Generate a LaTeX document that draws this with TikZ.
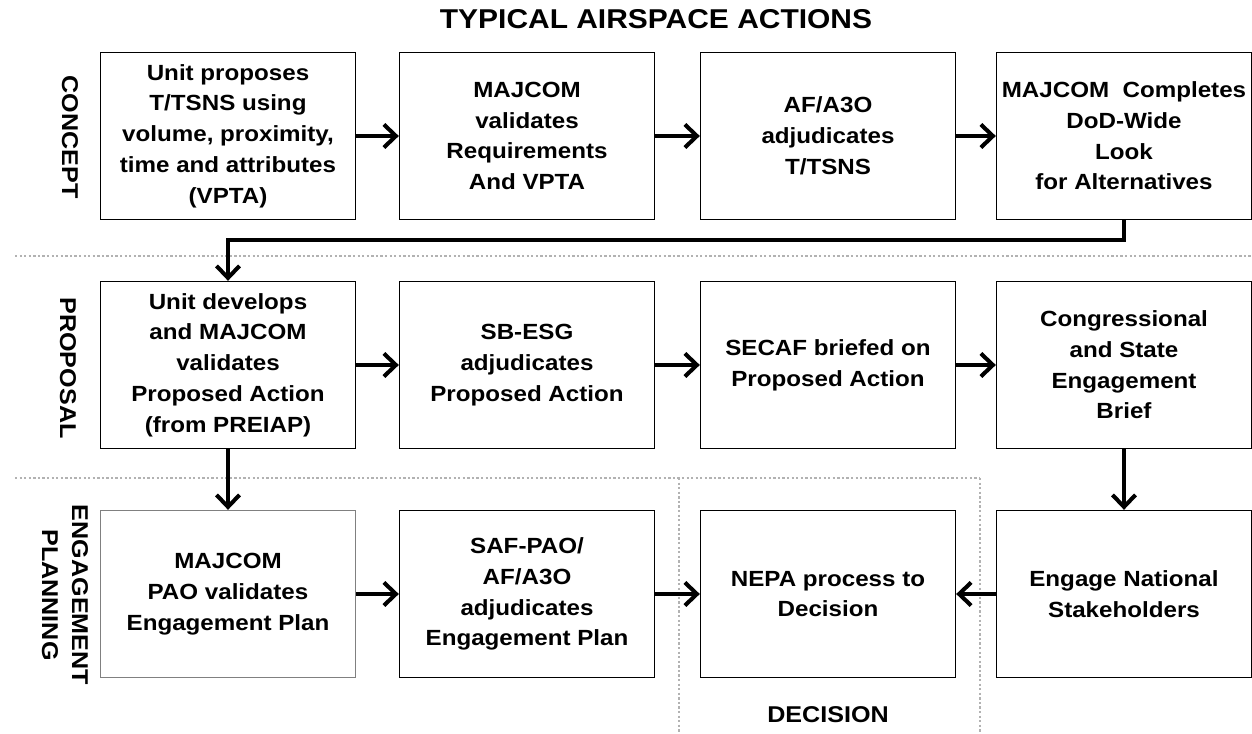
\documentclass[tikz,border=0pt]{standalone}
\usepackage{fontspec}
\setmainfont[FakeStretch=1.1]{Liberation Sans}
\usetikzlibrary{arrows.meta}
\begin{document}
\begin{tikzpicture}[>={Straight Barb[length=2.4mm,width=4.6mm]},x=0.02cm,y=-0.02cm,
  box/.style={draw,line width=0.8pt,minimum width=5.1cm,minimum height=3.34cm,align=center,inner sep=1pt,font=\fontsize{12.5}{17.5}\selectfont\bfseries},
  lane/.style={font=\fontsize{13}{17}\selectfont\bfseries,align=center},
  sep/.style={gray!60,line width=1.3pt,dash pattern=on 1.3pt off 1.3pt},
  flow/.style={->,line width=2.3pt}]
\def\ca{228}
\def\cb{527}
\def\cc{828}
\def\cd{1124}
\def\ra{136}
\def\rb{365}
\def\rc{594}
\useasboundingbox (0,0) rectangle (1252,734);
\node[font=\fontsize{15.5}{18}\selectfont\bfseries] (title) at (656,19) {TYPICAL AIRSPACE ACTIONS};
\draw[sep] (15,256) -- (1252,256);
\draw[sep] (15,478) -- (980,478);
\draw[sep] (679,478) -- (679,734);
\draw[sep] (980,478) -- (980,734);
\node[box] (unitprop) at (\ca,\ra) {Unit proposes\\T/TSNS using\\volume, proximity,\\time and attributes\\(VPTA)};
\node[box] (valreq) at (\cb,\ra) {MAJCOM\\validates\\Requirements\\And VPTA};
\node[box] (adjtsns) at (\cc,\ra) {AF/A3O\\adjudicates\\T/TSNS};
\node[box] (altlook) at (\cd,\ra) {MAJCOM\ \ Completes\\DoD-Wide\\Look\\for Alternatives};
\node[box] (unitdev) at (\ca,\rb) {Unit develops\\and MAJCOM\\validates\\Proposed Action\\(from PREIAP)};
\node[box] (sbesg) at (\cb,\rb) {SB-ESG\\adjudicates\\Proposed Action};
\node[box] (secaf) at (\cc,\rb) {SECAF briefed on\\Proposed Action};
\node[box] (congbrief) at (\cd,\rb) {Congressional\\and State\\Engagement\\Brief};
\node[box,draw=gray] (paoplan) at (\ca,\rc) {MAJCOM\\PAO validates\\Engagement Plan};
\node[box] (safpao) at (\cb,\rc) {SAF-PAO/\\AF/A3O\\adjudicates\\Engagement Plan};
\node[box] (nepa) at (\cc,\rc) {NEPA process to\\Decision};
\node[box] (natstake) at (\cd,\rc) {Engage National\\Stakeholders};
\node[lane,rotate=-90] (concept) at (70,137) {CONCEPT};
\node[lane,rotate=-90] (proposal) at (68,368) {PROPOSAL};
\node[lane,rotate=-90] (engage) at (65,595) {ENGAGEMENT\\PLANNING};
\node[lane] (decision) at (\cc,715) {DECISION};
\foreach \a/\b in {unitprop/valreq,valreq/adjtsns,adjtsns/altlook,unitdev/sbesg,sbesg/secaf,secaf/congbrief,paoplan/safpao,safpao/nepa,natstake/nepa,unitdev/paoplan,congbrief/natstake}{
  \draw[flow] (\a) -- (\b);
}
\draw[flow] (altlook.south) -- ++(0,20) -| (unitdev.north);
\end{tikzpicture}
\end{document}
